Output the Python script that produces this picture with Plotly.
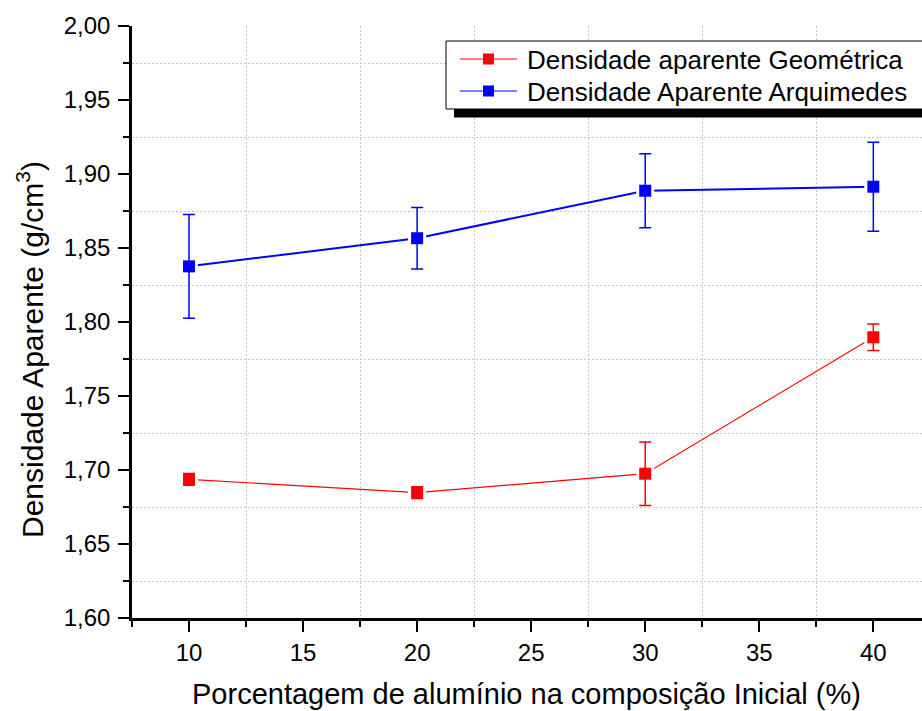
import plotly.graph_objects as go

# ---- data ----
aluminio = [10, 20, 30, 40]
geometrica = [1.6937, 1.6847, 1.6975, 1.7897]
geometrica_err = [0.004, 0.004, 0.0215, 0.009]
arquimedes = [1.8376, 1.8566, 1.8887, 1.8914]
arquimedes_err = [0.035, 0.0208, 0.025, 0.030]

serie_nomes = ["Densidade aparente Geométrica", "Densidade Aparente Arquimedes"]
cores = ["#ff0000", "#0000ff"]
x_titulo = "Porcentagem de alumínio na composição Inicial (%)"
y_titulo = "Densidade Aparente (g/cm<sup>3</sup>)"

W, H = 922, 711
ML, MR, MT, MB = 132, 0, 26, 93
PW, PH = W - ML - MR, H - MT - MB
FONT = "Liberation Sans"


def px(xp):
    return (xp - ML) / PW


def py(yp):
    return (H - MB - yp) / PH


fig = go.Figure()

series = [
    (geometrica, geometrica_err, cores[0], 1.2),
    (arquimedes, arquimedes_err, cores[1], 2.0),
]
for vals, errs, cor, lw in series:
    # line with white mask markers (gap around symbols)
    fig.add_trace(go.Scatter(
        x=aluminio, y=vals, mode="lines+markers",
        line=dict(color=cor, width=lw),
        marker=dict(symbol="square", size=18, color="white"),
        hoverinfo="skip", showlegend=False,
    ))
    # coloured markers with error bars
    fig.add_trace(go.Scatter(
        x=aluminio, y=vals, mode="markers",
        marker=dict(symbol="square", size=12, color=cor),
        error_y=dict(type="data", array=errs, visible=True,
                     color=cor, thickness=1.5, width=6),
        showlegend=False,
    ))

axis_common = dict(
    showline=True, linecolor="black", linewidth=2.5, mirror=False,
    ticks="outside", ticklen=11, tickwidth=2, tickcolor="black",
    showgrid=False, zeroline=False,
    tickfont=dict(family=FONT, size=24, color="black"),
)

fig.update_xaxes(
    range=[7.5, 7.5 + PW / 22.81], tick0=10, dtick=5,
    minor=dict(tick0=12.5, dtick=5, ticks="outside", ticklen=6,
               tickwidth=2, tickcolor="black",
               showgrid=True, gridcolor="#c8c8c8", griddash="2px,2px",
               gridwidth=1),
    **axis_common,
)
fig.update_yaxes(
    range=[1.60, 2.00], tick0=1.60, dtick=0.05, tickformat=".2f",
    ticklabelstandoff=3,
    minor=dict(tick0=1.625, dtick=0.05, ticks="outside", ticklen=6,
               tickwidth=2, tickcolor="black",
               showgrid=True, gridcolor="#c8c8c8", griddash="2px,2px",
               gridwidth=1),
    **axis_common,
)

shapes = []
annotations = []
# legend shadow and box
shapes.append(dict(type="rect", xref="paper", yref="paper",
                   x0=px(454), x1=px(935), y0=py(117.5), y1=py(49),
                   fillcolor="black", line=dict(width=0), layer="above"))
shapes.append(dict(type="rect", xref="paper", yref="paper",
                   x0=px(446), x1=px(935), y0=py(109), y1=py(41),
                   fillcolor="white", line=dict(color="black", width=1),
                   layer="above"))
for i, (nome, cor) in enumerate(zip(serie_nomes, cores)):
    yc = 59 + 32 * i
    shapes.append(dict(type="line", xref="paper", yref="paper",
                       x0=px(460), x1=px(517), y0=py(yc), y1=py(yc),
                       line=dict(color=cor, width=1.2), layer="above"))
    shapes.append(dict(type="rect", xref="paper", yref="paper",
                       x0=px(483), x1=px(494), y0=py(yc + 5.5), y1=py(yc - 5.5),
                       fillcolor=cor, line=dict(width=0), layer="above"))
    annotations.append(dict(text=nome, xref="paper", yref="paper",
                            x=px(525), y=py(yc + 1), xanchor="left",
                            yanchor="middle", showarrow=False,
                            font=dict(family=FONT, size=26, color="black")))

annotations.append(dict(text=y_titulo, xref="paper", yref="paper",
                        x=px(30), y=py(350), xanchor="center", yanchor="middle",
                        textangle=-90, showarrow=False,
                        font=dict(family=FONT, size=30, color="black")))
annotations.append(dict(text=x_titulo, xref="paper", yref="paper",
                        x=px(526), y=py(694), xanchor="center", yanchor="middle",
                        showarrow=False,
                        font=dict(family=FONT, size=29, color="black")))

fig.update_layout(
    width=W, height=H,
    margin=dict(l=ML, r=MR, t=MT, b=MB, pad=0),
    paper_bgcolor="white", plot_bgcolor="white",
    separators=",.",
    showlegend=False,
    shapes=shapes, annotations=annotations,
    font=dict(family=FONT, color="black"),
)

fig.write_html("out.html")
